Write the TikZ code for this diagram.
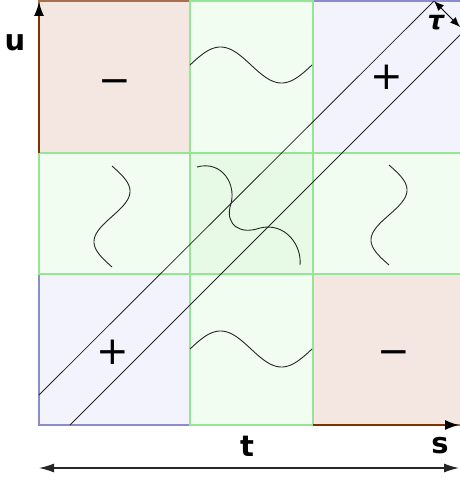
\documentclass[tikz,border=0pt]{standalone}
\usepackage{fontspec}
\setmainfont{DejaVu Sans}
\usetikzlibrary{arrows.meta}
\definecolor{pinkf}{RGB}{244,231,226}
\definecolor{brownb}{RGB}{128,51,0}
\definecolor{purpf}{RGB}{243,243,253}
\definecolor{purpb}{RGB}{140,140,200}
\definecolor{greenf}{RGB}{242,253,242}
\definecolor{greenb}{RGB}{150,228,150}
\definecolor{greenc}{RGB}{230,250,230}
\begin{document}
\begin{tikzpicture}[x=1pt,y=-1pt,
  pinkcell/.style={fill=pinkf,draw=brownb!70,line width=1.2pt},
  purpcell/.style={fill=purpf,draw=purpb,line width=1.2pt},
  greencell/.style={fill=greenf,draw=greenb,line width=1.2pt},
  centercell/.style={fill=greenc,draw=greenb,line width=1.2pt},
  curve/.style={draw=black!85,line width=0.9pt},
  diag/.style={draw=black!85,line width=0.8pt},
  axis/.style={draw=brownb,line width=1.2pt,-{Latex[length=14pt,width=10pt,color=black]}},
  axlabel/.style={font=\fontsize{29}{29}\selectfont\bfseries,text=black},
  sign/.style={font=\fontsize{39}{39}\selectfont,text=black},
]
\useasboundingbox (0,0) rectangle (459,481);
% cells
\path[pinkcell] (39,1) rectangle (190,153);
\path[pinkcell] (313,274) rectangle (462,425);
\path[purpcell] (313,1) rectangle (462,153);
\path[purpcell] (39,274) rectangle (190,425);
\path[greencell] (190,1) rectangle (313,153);
\path[greencell] (39,153) rectangle (190,274);
\path[greencell] (313,153) rectangle (462,274);
\path[greencell] (190,274) rectangle (313,425);
\path[centercell] (190,153) rectangle (313,274);
% curves
\draw[curve] plot[domain=0:360,samples=72,smooth] ({190+\x/360*122},{65-18*sin(\x)});
\draw[curve] plot[domain=0:360,samples=72,smooth] ({190+\x/360*122},{349-18*sin(\x)});
\draw[curve] plot[domain=0:360,samples=72,smooth] ({112+18*sin(\x)},{166+\x/360*101});
\draw[curve] plot[domain=0:360,samples=72,smooth] ({389+18*sin(\x)},{165+\x/360*100});
\draw[curve] (197,167) .. controls (222,160) and (238,185) .. (230,207)
  .. controls (226,225) and (240,235) .. (260,228)
  .. controls (285,222) and (302,245) .. (300,265);
% diagonals
\coordinate (d1a) at (39,395);
\coordinate (d1b) at (434,1);
\coordinate (d2a) at (70,425);
\coordinate (d2b) at (462,33);
\draw[diag] (d1a) -- (d1b);
\draw[diag] (d2a) -- (d2b);
\coordinate (tauend) at (460,27);
\draw[line width=1pt,{Latex[length=10pt,width=8pt]}-{Latex[length=10pt,width=8pt]}] (d1b) -- (tauend);
% axes
\coordinate (vstart) at (39,153);
\coordinate (vend) at (39,2);
\coordinate (hstart) at (313,425);
\coordinate (hend) at (459,425);
\draw[axis] (vstart) -- (vend);
\draw[axis] (hstart) -- (hend);
\coordinate (bl) at (39,468);
\coordinate (br) at (459,468);
\draw[line width=1.2pt,draw=black!85,{Latex[length=15pt,width=9pt]}-{Latex[length=15pt,width=9pt]}] (bl) -- (br);
% labels
\node[axlabel] (u) at (15,43) {u};
\node[axlabel] (t) at (247,446) {t};
\node[axlabel] (s) at (440,446) {s};
\node[font=\fontsize{26}{26}\selectfont\bfseries\itshape] (tau) at (436,23) {τ};
\node[sign] (p1) at (387,77) {+};
\node[sign] (p2) at (113,352) {+};
\node[sign] (m1) at (115,87) {−};
\node[sign] (m2) at (394,358) {−};
\end{tikzpicture}
\end{document}
